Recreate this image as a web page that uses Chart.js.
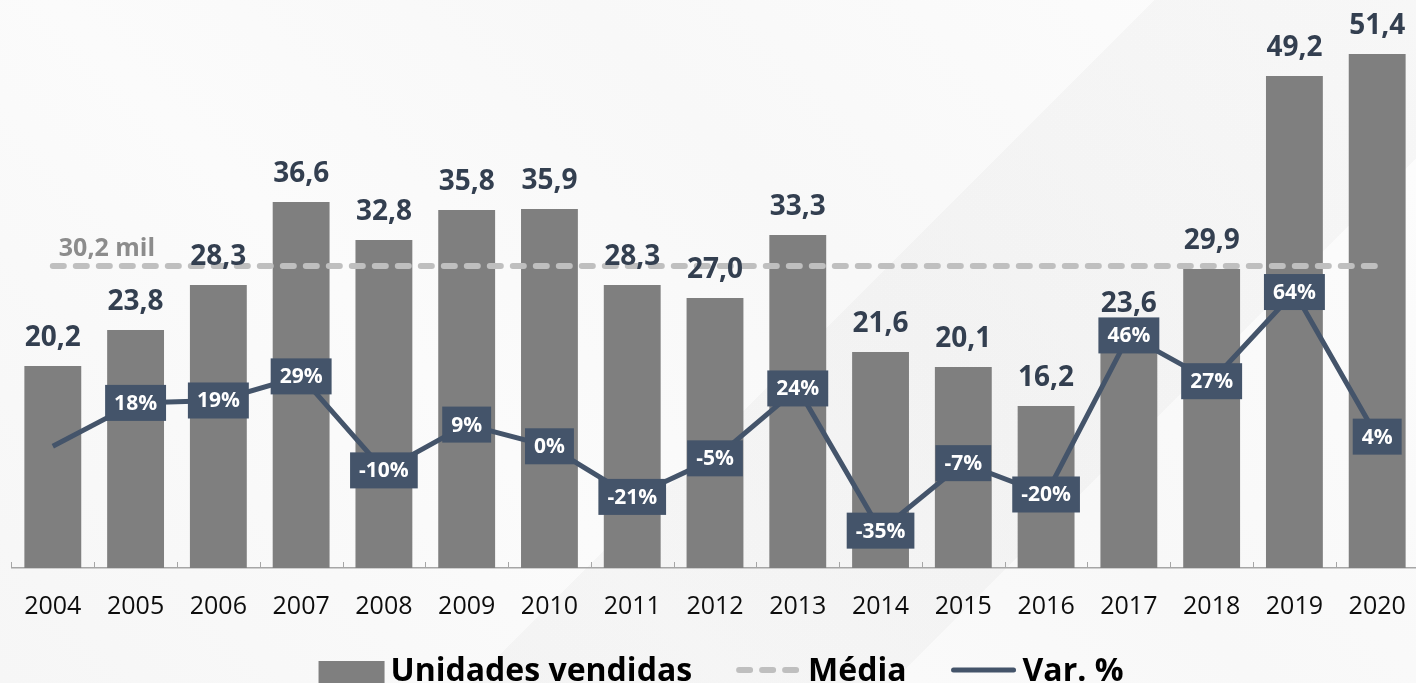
<!DOCTYPE html>
<html>
<head>
<meta charset="utf-8">
<script src="https://cdn.jsdelivr.net/npm/chart.js@4.4.0/dist/chart.umd.min.js"></script>
<style>
  html, body { margin: 0; padding: 0; }
  body {
    width: 1416px; height: 683px; overflow: hidden;
    background:
      linear-gradient(135deg, rgba(0,0,0,0) 0%, rgba(0,0,0,0) 55%, rgba(0,0,0,0.025) 55%, rgba(0,0,0,0.025) 75%, rgba(0,0,0,0) 75%),
      linear-gradient(45deg, #f6f6f6 0%, #fbfbfb 35%, #f8f8f8 60%, #fdfdfd 100%);
  }
  #wrap { position: relative; width: 1430px; height: 683px; }
</style>
</head>
<body>
<div id="wrap"><canvas id="grafico" width="1430" height="683"></canvas></div>
<script>
(function () {
  'use strict'

  var anos = ['2004', '2005', '2006', '2007', '2008', '2009', '2010', '2011', '2012',
    '2013', '2014', '2015', '2016', '2017', '2018', '2019', '2020']
  var unidades = [20.2, 23.8, 28.3, 36.6, 32.8, 35.8, 35.9, 28.3, 27.0, 33.3, 21.6,
    20.1, 16.2, 23.6, 29.9, 49.2, 51.4]
  var variacao = [0, 18, 19, 29, -10, 9, 0, -21, -5, 24, -35, -7, -20, 46, 27, 64, 4]
  var media = 30.2
  var mediaLinha = anos.map(function () { return media })

  var cinza = '#7f7f7f'
  var azul = '#44546a'
  var escuro = '#333f50'
  var tracejado = '#bfbfbf'
  var fonte = "'Open Sans', sans-serif"

  function virgula (v, casas) {
    return v.toFixed(casas).replace('.', ',')
  }

  // rótulos das barras, da média e caixinhas da variação
  var rotulos = {
    id: 'rotulos',
    beforeDatasetsDraw: function (chart) {
      var ctx = chart.ctx
      var x = chart.scales.x
      var passo = (x.right - x.left) / anos.length
      ctx.save()
      ctx.strokeStyle = '#a6a6a6'
      ctx.lineWidth = 1
      for (var i = 0; i <= anos.length; i++) {
        var px = Math.round(x.left + i * passo) + 0.5
        ctx.beginPath()
        ctx.moveTo(px, x.top)
        ctx.lineTo(px, x.top - 6)
        ctx.stroke()
      }
      ctx.restore()
    },
    afterDatasetsDraw: function (chart) {
      var ctx = chart.ctx
      var barras = chart.getDatasetMeta(0)
      var linha = chart.getDatasetMeta(2)
      var y = chart.scales.y
      var x = chart.scales.x
      ctx.save()

      ctx.font = 'bold 28px ' + fonte
      ctx.fillStyle = escuro
      ctx.textAlign = 'center'
      ctx.textBaseline = 'alphabetic'
      barras.data.forEach(function (el, i) {
        ctx.fillText(virgula(unidades[i], 1), el.x, el.y - 20)
      })

      ctx.font = 'bold 25px ' + fonte
      ctx.fillStyle = '#8c8c8c'
      ctx.textAlign = 'left'
      ctx.fillText(virgula(media, 1) + ' mil', x.getPixelForValue(0) + 6, y.getPixelForValue(media) - 10)

      ctx.font = 'bold 21px ' + fonte
      ctx.textAlign = 'center'
      ctx.textBaseline = 'middle'
      linha.data.forEach(function (el, i) {
        if (i === 0) return
        var txt = variacao[i] + '%'
        var w = ctx.measureText(txt).width + 18
        var h = 36
        ctx.fillStyle = azul
        ctx.fillRect(el.x - w / 2, el.y - h / 2, w, h)
        ctx.fillStyle = '#ffffff'
        ctx.fillText(txt, el.x, el.y + 1)
      })
      ctx.restore()
    }
  }

  // legenda desenhada à mão, embaixo
  var legenda = {
    id: 'legenda',
    afterDraw: function (chart) {
      var ctx = chart.ctx
      var itens = chart.data.datasets
      var marca = 66
      var gap = 6
      var espaco = 44
      var yMeio = 670
      ctx.save()
      ctx.font = 'bold 32px ' + fonte
      var total = 0
      itens.forEach(function (ds, i) {
        total += marca + gap + ctx.measureText(ds.label).width + (i ? espaco : 0)
      })
      var cx = 721 - total / 2
      itens.forEach(function (ds, i) {
        if (i === 0) {
          ctx.fillStyle = ds.backgroundColor
          ctx.fillRect(cx, yMeio - 9, marca, 22)
        } else {
          ctx.strokeStyle = ds.borderColor
          ctx.lineWidth = ds.borderWidth
          ctx.lineCap = 'round'
          ctx.setLineDash(ds.borderDash || [])
          ctx.beginPath()
          ctx.moveTo(cx + 3, yMeio)
          ctx.lineTo(cx + marca - 3, yMeio)
          ctx.stroke()
          ctx.setLineDash([])
        }
        cx += marca + gap
        ctx.fillStyle = '#000000'
        ctx.textAlign = 'left'
        ctx.textBaseline = 'alphabetic'
        ctx.fillText(ds.label, cx, 681)
        cx += ctx.measureText(ds.label).width + espaco
      })
      ctx.restore()
    }
  }

  var data = {
    labels: anos,
    datasets: [{
      type: 'bar',
      label: 'Unidades vendidas',
      data: unidades,
      backgroundColor: cinza,
      borderWidth: 0,
      barPercentage: 0.687,
      categoryPercentage: 1,
      yAxisID: 'y',
      order: 3
    }, {
      type: 'line',
      label: 'Média',
      data: mediaLinha,
      borderColor: tracejado,
      borderWidth: 6,
      borderDash: [11, 12],
      borderCapStyle: 'round',
      pointRadius: 0,
      yAxisID: 'y',
      order: 2
    }, {
      type: 'line',
      label: 'Var. %',
      data: variacao,
      borderColor: azul,
      backgroundColor: azul,
      borderWidth: 5,
      pointRadius: 0,
      tension: 0,
      yAxisID: 'y1',
      order: 1
    }]
  }

  var options = {
    responsive: false,
    animation: false,
    layout: { padding: { left: 11, right: 8, top: 18, bottom: 37 } },
    scales: {
      x: {
        offset: true,
        grid: { display: false, drawTicks: false },
        border: { display: true, color: '#a6a6a6', width: 1.5 },
        ticks: { color: '#0d0d0d', font: { family: fonte, size: 25 }, padding: 24, maxRotation: 0, autoSkip: false }
      },
      y: { display: false, min: 0, max: 55 },
      y1: { display: false, min: -50.5, max: 177.7 }
    },
    plugins: {
      tooltip: { enabled: false },
      legend: { display: false }
    }
  }

  var grafico = new Chart(document.getElementById('grafico'), {
    type: 'bar',
    data: data,
    options: options,
    plugins: [rotulos, legenda]
  })
})()
</script>
</body>
</html>
